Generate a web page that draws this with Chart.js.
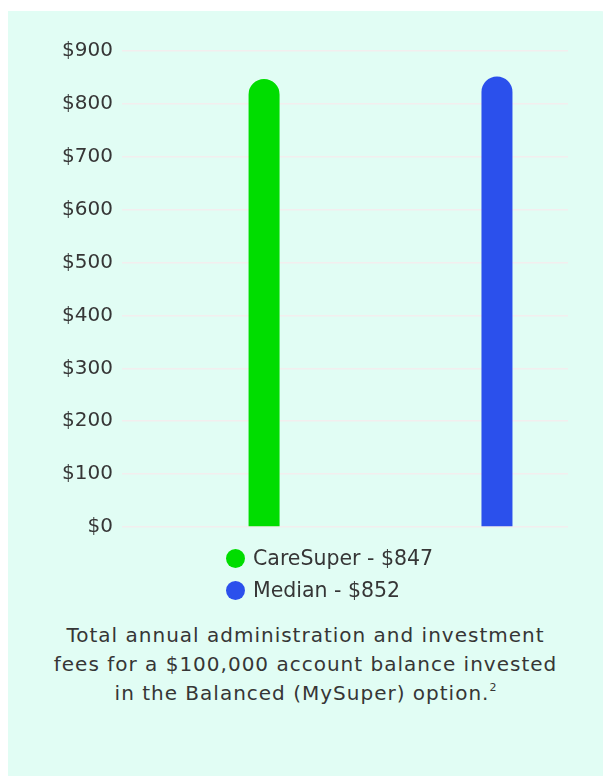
<!DOCTYPE html>
<html>
<head>
<meta charset="utf-8">
<script src="https://cdn.jsdelivr.net/npm/chart.js@4.4.1/dist/chart.umd.min.js"></script>
<style>
  html, body { margin: 0; padding: 0; background: #fff; }
  body { width: 603px; height: 776px; overflow: hidden; position: relative; font-family: "DejaVu Sans", sans-serif; color: #363636; }
  .card { position: absolute; left: 8px; top: 11px; width: 610px; height: 800px; background: #e1fdf4; border-top-right-radius: 18px; }
  .chart-box { position: absolute; left: 20px; top: 30px; width: 560px; height: 518px; }
  #legend { position: absolute; left: 226px; top: 542px; margin: 0; padding: 0; list-style: none; }
  #legend li { display: flex; align-items: center; height: 32px; font-size: 20.5px; }
  #legend span.dot { width: 19px; height: 19px; border-radius: 50%; margin-right: 8px; display: inline-block; }
  .caption { position: absolute; left: 8px; width: 595px; top: 621px; text-align: center; font-size: 20px; line-height: 29px; letter-spacing: 1px; }
  .caption sup { font-size: 11px; line-height: 0; vertical-align: baseline; position: relative; top: -9px; letter-spacing: 0; }
</style>
</head>
<body>
<div class="card"></div>
<div class="chart-box"><canvas id="feesChart"></canvas></div>
<ul id="legend"></ul>
<div class="caption">Total annual administration and investment<br>fees for a $100,000 account balance invested<br>in the Balanced (MySuper) option.<sup>2</sup></div>
<script>
// valeurs
const seriesNames = ['CareSuper - $847', 'Median - $852']
const seriesPositions = [0, 1]
const seriesValues = [847, 852]
const seriesColors = ['#00dd00', '#2b50ec']
const yTicks = [0, 100, 200, 300, 400, 500, 600, 700, 800, 900]

const datasets = seriesNames.map((name, i) => {
    return {
        label: name,
        data: [{ x: seriesPositions[i], y: seriesValues[i] }],
        backgroundColor: seriesColors[i],
        borderRadius: 20,
        borderSkipped: 'start',
        grouped: false,
        maxBarThickness: 31
    }
})

const config = {
    type: 'bar',
    data: { datasets: datasets },
    options: {
        responsive: true,
        maintainAspectRatio: false,
        animation: false,
        layout: { padding: { top: 20, right: 12, bottom: 14, left: 0 } },
        plugins: { legend: { display: false }, tooltip: { enabled: false } },
        scales: {
            x: { type: 'linear', display: false, offset: false, min: -0.61, max: 1.305 },
            y: {
                min: 0,
                max: 900,
                afterFit: (scale) => { scale.width = 102 },
                afterBuildTicks: (scale) => { scale.ticks = yTicks.map((v) => ({ value: v })) },
                border: { display: false },
                grid: { color: '#f3eeee', lineWidth: 1.5, drawTicks: false },
                ticks: {
                    padding: 9,
                    color: '#363636',
                    font: { family: 'DejaVu Sans', size: 20 },
                    callback: (v) => '$' + v
                }
            }
        }
    }
}

const ctx = document.getElementById('feesChart')
const chart = new Chart(ctx, config)

// légende verticale construite à partir des datasets
const legend = document.getElementById('legend')
chart.data.datasets.forEach((ds) => {
    const li = document.createElement('li')
    const dot = document.createElement('span')
    dot.className = 'dot'
    dot.style.background = ds.backgroundColor
    li.appendChild(dot)
    li.appendChild(document.createTextNode(ds.label))
    legend.appendChild(li)
})
</script>
</body>
</html>
